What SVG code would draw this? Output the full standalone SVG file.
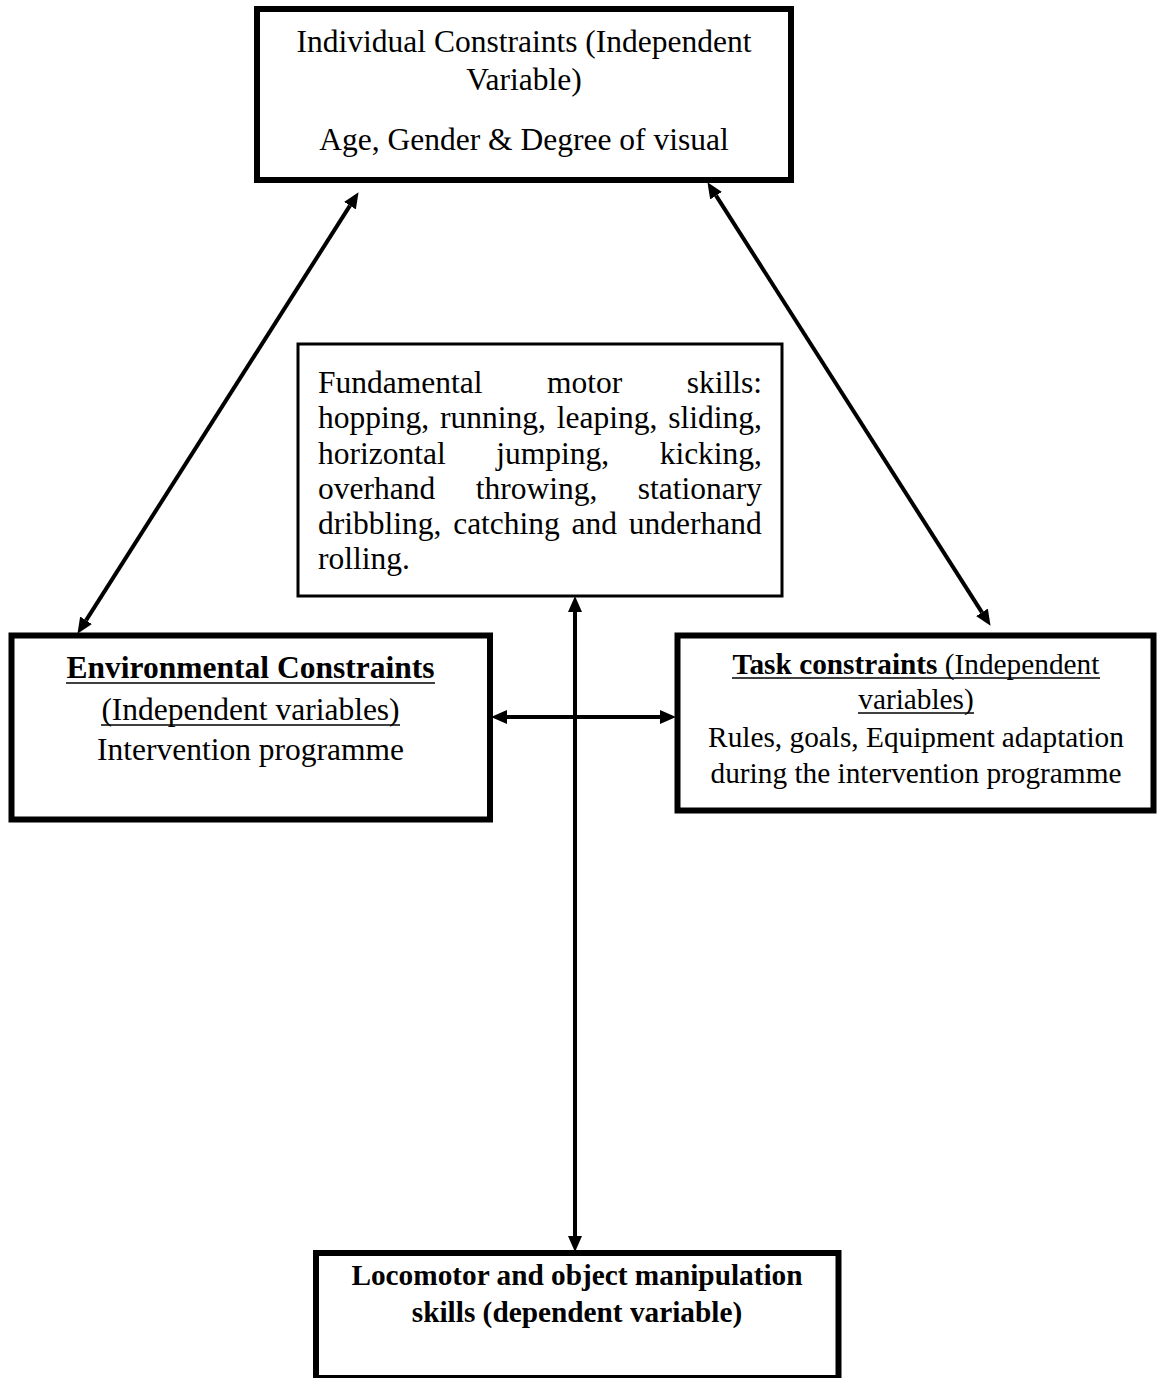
<svg xmlns="http://www.w3.org/2000/svg" width="1157" height="1378" viewBox="0 0 1157 1378">
<style>
.box{fill:#fff;stroke:#000;stroke-width:6}
.thin{fill:#fff;stroke:#000;stroke-width:3}
text{font-family:"Liberation Serif","Times New Roman",serif;fill:#000}
.t{font-size:31.5px}
.s{font-size:29.3px}
.c{text-anchor:middle}
.e{text-anchor:end}
.b{font-weight:bold}
.ul{stroke:#000;stroke-width:1.6}
.con{stroke:#000;stroke-width:4;fill:none}
</style>
<defs>
<marker id="ah" markerUnits="userSpaceOnUse" markerWidth="16" markerHeight="14" refX="0" refY="7" orient="auto-start-reverse" viewBox="0 0 16 14">
<path d="M0,0 L16,7 L0,14 Z" fill="#000"/>
</marker>
</defs>
<g id="connectors">
<line class="con" x1="86.05" y1="620.34" x2="349.95" y2="205.66" marker-start="url(#ah)" marker-end="url(#ah)"/>
<line class="con" x1="716.07" y1="195.65" x2="981.93" y2="612.36" marker-start="url(#ah)" marker-end="url(#ah)"/>
<line class="con" x1="575" y1="612" x2="575" y2="1236" marker-start="url(#ah)" marker-end="url(#ah)"/>
<line class="con" x1="507" y1="717" x2="660" y2="717" marker-start="url(#ah)" marker-end="url(#ah)"/>
</g>
<g id="individual">
<rect class="box" x="257" y="9" width="534" height="171"/>
<text class="t c" x="524" y="52">Individual Constraints (Independent</text>
<text class="t c" x="524" y="90">Variable)</text>
<text class="t c" x="524" y="150">Age, Gender &amp; Degree of visual</text>
</g>
<g id="fundamental">
<rect class="thin" x="298" y="344" width="484" height="252"/>
<text class="t" y="393"><tspan x="318">Fundamental</tspan><tspan class="c" x="584.6">motor</tspan><tspan class="e" x="762">skills:</tspan></text>
<text class="t" x="318" y="428" word-spacing="3">hopping, running, leaping, sliding,</text>
<text class="t" y="464"><tspan x="318">horizontal</tspan><tspan class="c" x="552.7">jumping,</tspan><tspan class="e" x="762">kicking,</tspan></text>
<text class="t" y="499"><tspan x="318">overhand</tspan><tspan class="c" x="536.5">throwing,</tspan><tspan class="e" x="762">stationary</tspan></text>
<text class="t" x="318" y="534" word-spacing="3.9">dribbling, catching and underhand</text>
<text class="t" x="318" y="569">rolling.</text>
</g>
<g id="environmental">
<rect class="box" x="11.5" y="635.5" width="478.5" height="184"/>
<text class="t c b" x="250.5" y="678">Environmental Constraints</text>
<line class="ul" x1="66" y1="683" x2="435" y2="683" stroke-width="2"/>
<text class="t c" x="250.5" y="720">(Independent variables)</text>
<line class="ul" x1="101" y1="725" x2="400" y2="725"/>
<text class="t c" x="250.5" y="760">Intervention programme</text>
</g>
<g id="task">
<rect class="box" x="677.5" y="635.5" width="476" height="175"/>
<text class="s c" x="916" y="674"><tspan font-weight="bold">Task constraints</tspan> (Independent</text>
<line class="ul" x1="732" y1="678" x2="1100" y2="678"/>
<text class="s c" x="916" y="709">variables)</text>
<line class="ul" x1="858" y1="713" x2="974" y2="713"/>
<text class="s c" x="916" y="747">Rules, goals, Equipment adaptation</text>
<text class="s c" x="916" y="783">during the intervention programme</text>
</g>
<g id="locomotor">
<rect class="box" x="316" y="1253" width="522.5" height="125"/>
<text class="s c b" x="577" y="1285">Locomotor and object manipulation</text>
<text class="s c b" x="577" y="1322">skills (dependent variable)</text>
</g>
</svg>
